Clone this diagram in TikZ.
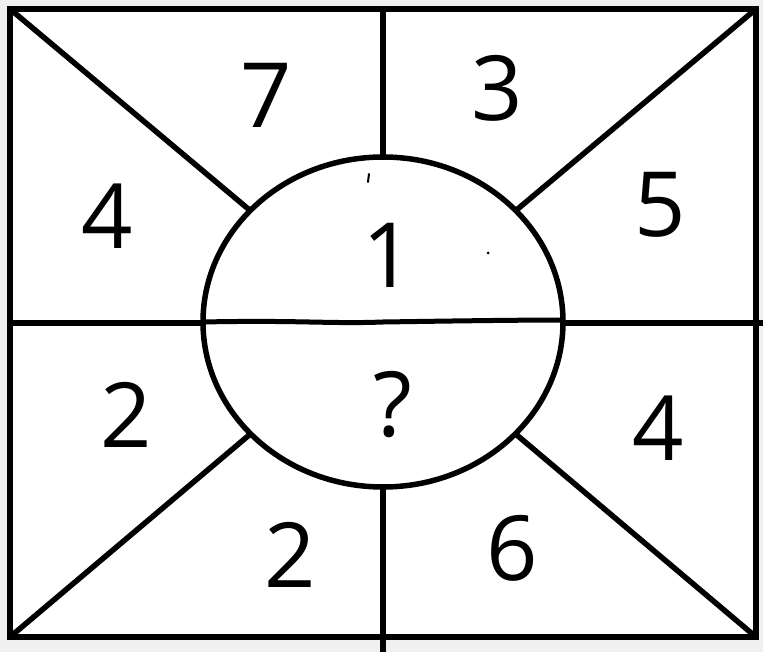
\documentclass[tikz,border=0pt]{standalone}
\usepackage{fontspec}
\setmainfont{Open Sans}
\begin{document}
\begin{tikzpicture}[x=1pt,y=-1pt,line width=5.5pt,
  num/.style={font=\fontsize{90}{90}\selectfont, inner sep=0pt},
  edge/.style={draw=black,line width=5.5pt}]
\fill[gray!12] (0,0) rectangle (763,652);
\useasboundingbox (0,0) rectangle (763,652);
\coordinate (TL) at (10,9);
\coordinate (TR) at (756,9);
\coordinate (BL) at (10,637);
\coordinate (BR) at (756,637);
\coordinate (C) at (383,322);
\coordinate (Ttop) at (383,9);
\coordinate (Tbot) at (383,652);
\coordinate (Lmid) at (10,323);
\coordinate (Rmid) at (763,323);
\coordinate (Eleft) at (203,322);
\coordinate (Eright) at (565,320);
\fill[white] (TL) rectangle (BR);
\draw[edge] (TL) -- (C);
\draw[edge] (TR) -- (C);
\draw[edge] (BL) -- (C);
\draw[edge] (BR) -- (C);
\draw[edge] (Ttop) -- (Tbot);
\draw[edge] (Lmid) -- (Rmid);
\fill[white] (C) ellipse [x radius=180, y radius=165];
\draw[edge] (C) ellipse [x radius=180, y radius=165];
\draw[edge,line width=5pt] (Eleft) .. controls (300,320) and (330,324) .. (383,322) .. controls (450,321) and (520,320) .. (Eright);
\draw[edge,line join=miter] (TL) rectangle (BR);
\node[num] (n7) at (266,95) {7};
\node[num] (n3) at (497,88) {3};
\node[num] (n4a) at (107,216) {4};
\node[num] (n5) at (660,205) {5};
\node[num] (n1) at (388,255) {1};
\node[num] (n2a) at (126,415) {2};
\node[num] (nq) at (393,405) {?};
\node[num] (n4b) at (658,428) {4};
\node[num] (n2b) at (290,555) {2};
\node[num] (n6) at (512,548) {6};
\draw[line width=2pt,line cap=round] (369,174) -- (368,182);
\fill (488,253) circle (1.5);
\end{tikzpicture}
\end{document}
